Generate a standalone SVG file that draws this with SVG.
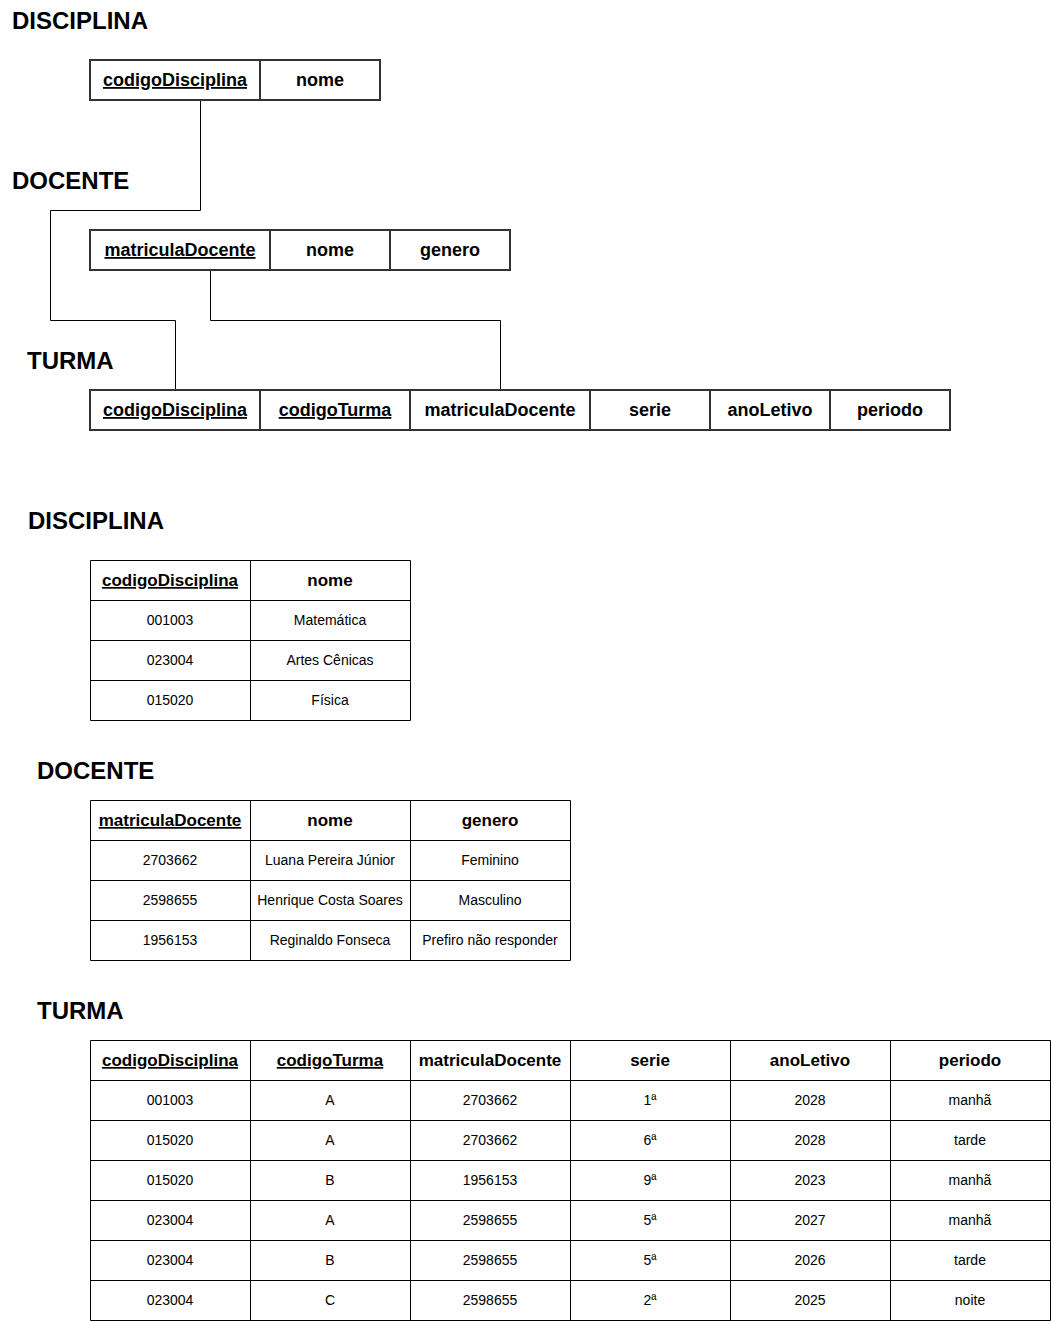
<svg xmlns="http://www.w3.org/2000/svg" width="1051" height="1321" viewBox="0 0 1051 1321">
<style>
text{font-family:"Liberation Sans",Arial,sans-serif;fill:#000;text-anchor:middle}
.title{font-size:24px;font-weight:bold;text-anchor:start}
.sh{font-size:18px;font-weight:bold}
.th{font-size:17px;font-weight:bold}
.td{font-size:14px}
.u{text-decoration:underline}
.sbox{fill:#fff;stroke:#333;stroke-width:2}
.tbl{fill:none;stroke:#000;stroke-width:1}
.conn{fill:none;stroke:#000;stroke-width:1}
</style>
<rect width="1051" height="1321" fill="#fff"/>

<g id="connectors">
<path class="conn" d="M200.5 100V210.5H50.5V320.5H175.5V390"/>
<path class="conn" d="M210.5 270V320.5H500.5V390"/>
</g>

<g id="title-disciplina-schema"><text class="title" x="12" y="28.5">DISCIPLINA</text></g>
<g id="title-docente-schema"><text class="title" x="12" y="188.5">DOCENTE</text></g>
<g id="title-turma-schema"><text class="title" x="27" y="368.5">TURMA</text></g>

<g id="schema-disciplina">
<rect class="sbox" x="90" y="60" width="290" height="40"/>
<line x1="260" y1="60" x2="260" y2="100" stroke="#333" stroke-width="2"/>
<text class="sh u" x="175" y="86">codigoDisciplina</text>
<text class="sh" x="320" y="86">nome</text>
</g>

<g id="schema-docente">
<rect class="sbox" x="90" y="230" width="420" height="40"/>
<path d="M270 230V270M390 230V270" stroke="#333" stroke-width="2"/>
<text class="sh u" x="180" y="256">matriculaDocente</text>
<text class="sh" x="330" y="256">nome</text>
<text class="sh" x="450" y="256">genero</text>
</g>

<g id="schema-turma">
<rect class="sbox" x="90" y="390" width="860" height="40"/>
<path d="M260 390V430M410 390V430M590 390V430M710 390V430M830 390V430" stroke="#333" stroke-width="2"/>
<text class="sh u" x="175" y="416">codigoDisciplina</text>
<text class="sh u" x="335" y="416">codigoTurma</text>
<text class="sh" x="500" y="416">matriculaDocente</text>
<text class="sh" x="650" y="416">serie</text>
<text class="sh" x="770" y="416">anoLetivo</text>
<text class="sh" x="890" y="416">periodo</text>
</g>

<g id="title-disciplina-table"><text class="title" x="28" y="528.5">DISCIPLINA</text></g>
<g id="title-docente-table"><text class="title" x="37" y="778.5">DOCENTE</text></g>
<g id="title-turma-table"><text class="title" x="37" y="1018.5">TURMA</text></g>

<g id="table-disciplina">
<path class="tbl" d="M90.5 560.5H410.5V720.5H90.5ZM250.5 560.5V720.5M90.5 600.5H410.5M90.5 640.5H410.5M90.5 680.5H410.5"/>
<text class="th u" x="170" y="586">codigoDisciplina</text>
<text class="th" x="330" y="586">nome</text>
<text class="td" x="170" y="625">001003</text><text class="td" x="330" y="625">Matemática</text>
<text class="td" x="170" y="665">023004</text><text class="td" x="330" y="665">Artes Cênicas</text>
<text class="td" x="170" y="705">015020</text><text class="td" x="330" y="705">Física</text>
</g>

<g id="table-docente">
<path class="tbl" d="M90.5 800.5H570.5V960.5H90.5ZM250.5 800.5V960.5M410.5 800.5V960.5M90.5 840.5H570.5M90.5 880.5H570.5M90.5 920.5H570.5"/>
<text class="th u" x="170" y="826">matriculaDocente</text>
<text class="th" x="330" y="826">nome</text>
<text class="th" x="490" y="826">genero</text>
<text class="td" x="170" y="865">2703662</text><text class="td" x="330" y="865">Luana Pereira Júnior</text><text class="td" x="490" y="865">Feminino</text>
<text class="td" x="170" y="905">2598655</text><text class="td" x="330" y="905">Henrique Costa Soares</text><text class="td" x="490" y="905">Masculino</text>
<text class="td" x="170" y="945">1956153</text><text class="td" x="330" y="945">Reginaldo Fonseca</text><text class="td" x="490" y="945">Prefiro não responder</text>
</g>

<g id="table-turma">
<path class="tbl" d="M90.5 1040.5H1050.5V1320.5H90.5ZM250.5 1040.5V1320.5M410.5 1040.5V1320.5M570.5 1040.5V1320.5M730.5 1040.5V1320.5M890.5 1040.5V1320.5M90.5 1080.5H1050.5M90.5 1120.5H1050.5M90.5 1160.5H1050.5M90.5 1200.5H1050.5M90.5 1240.5H1050.5M90.5 1280.5H1050.5"/>
<text class="th u" x="170" y="1066">codigoDisciplina</text>
<text class="th u" x="330" y="1066">codigoTurma</text>
<text class="th" x="490" y="1066">matriculaDocente</text>
<text class="th" x="650" y="1066">serie</text>
<text class="th" x="810" y="1066">anoLetivo</text>
<text class="th" x="970" y="1066">periodo</text>
<text class="td" x="170" y="1105">001003</text><text class="td" x="330" y="1105">A</text><text class="td" x="490" y="1105">2703662</text><text class="td" x="650" y="1105">1ª</text><text class="td" x="810" y="1105">2028</text><text class="td" x="970" y="1105">manhã</text>
<text class="td" x="170" y="1145">015020</text><text class="td" x="330" y="1145">A</text><text class="td" x="490" y="1145">2703662</text><text class="td" x="650" y="1145">6ª</text><text class="td" x="810" y="1145">2028</text><text class="td" x="970" y="1145">tarde</text>
<text class="td" x="170" y="1185">015020</text><text class="td" x="330" y="1185">B</text><text class="td" x="490" y="1185">1956153</text><text class="td" x="650" y="1185">9ª</text><text class="td" x="810" y="1185">2023</text><text class="td" x="970" y="1185">manhã</text>
<text class="td" x="170" y="1225">023004</text><text class="td" x="330" y="1225">A</text><text class="td" x="490" y="1225">2598655</text><text class="td" x="650" y="1225">5ª</text><text class="td" x="810" y="1225">2027</text><text class="td" x="970" y="1225">manhã</text>
<text class="td" x="170" y="1265">023004</text><text class="td" x="330" y="1265">B</text><text class="td" x="490" y="1265">2598655</text><text class="td" x="650" y="1265">5ª</text><text class="td" x="810" y="1265">2026</text><text class="td" x="970" y="1265">tarde</text>
<text class="td" x="170" y="1305">023004</text><text class="td" x="330" y="1305">C</text><text class="td" x="490" y="1305">2598655</text><text class="td" x="650" y="1305">2ª</text><text class="td" x="810" y="1305">2025</text><text class="td" x="970" y="1305">noite</text>
</g>
</svg>
